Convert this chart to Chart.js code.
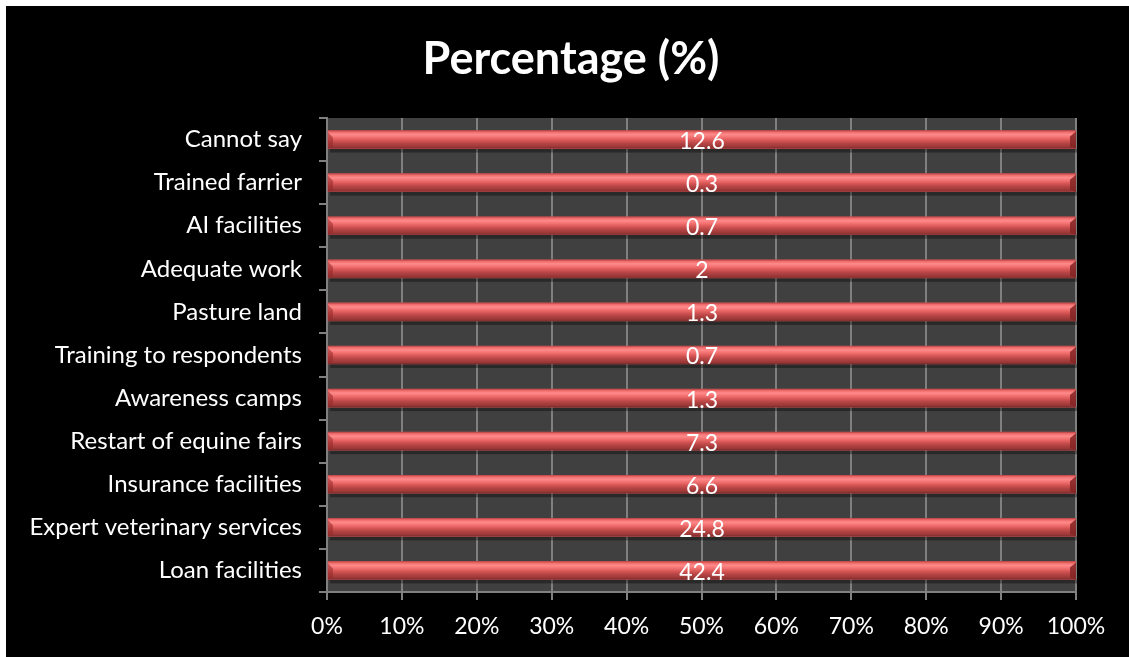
<!DOCTYPE html>
<html>
<head>
<meta charset="utf-8">
<script src="https://cdn.jsdelivr.net/npm/chart.js@4"></script>
<style>
  html, body { margin: 0; padding: 0; background: #fff; }
  #wrap { position: absolute; left: 6px; top: 6px; width: 1123px; height: 651px; background: #000; }
</style>
</head>
<body>
<div id="wrap"><canvas id="c"></canvas></div>
<script>
// categories listed top to bottom, as in the picture
const categories = [
  'Cannot say', 'Trained farrier', 'AI facilities', 'Adequate work', 'Pasture land',
  'Training to respondents', 'Awareness camps', 'Restart of equine fairs',
  'Insurance facilities', 'Expert veterinary services', 'Loan facilities'
];
const percentage = [12.6, 0.3, 0.7, 2, 1.3, 0.7, 1.3, 7.3, 6.6, 24.8, 42.4];
const xTicks = [0, 10, 20, 30, 40, 50, 60, 70, 80, 90, 100];
const titleText = 'Percentage (%)';

// 100% stacked: each bar is its share of the category total (one series -> full width)
const series = [percentage];
const totals = categories.map((_, i) => series.reduce((s, arr) => s + arr[i], 0));
const shares = percentage.map((v, i) => v / totals[i] * 100);

const FONT = 'Lato, "Liberation Sans", sans-serif';

// dark plot background + title (centred on the whole chart box)
const plotBg = {
  id: 'plotBg',
  beforeDraw(chart) {
    const { ctx, chartArea: a } = chart;
    ctx.save();
    ctx.fillStyle = '#404040';
    ctx.fillRect(a.left, a.top, a.right - a.left, a.bottom - a.top);
    ctx.fillStyle = '#fff';
    ctx.font = 'bold 45px ' + FONT;
    ctx.textAlign = 'center';
    ctx.textBaseline = 'middle';
    ctx.fillText(titleText, 565, 53);
    ctx.restore();
  }
};

// shading to give the bars their rounded/bevelled look, plus value labels
const bevel = {
  id: 'bevel',
  beforeDatasetsDraw(chart) {
    const ctx = chart.ctx;
    ctx.save();
    chart.getDatasetMeta(0).data.forEach(el => {
      const h = el.height, top = el.y - h / 2;
      ctx.fillStyle = 'rgba(0,0,0,0.35)';
      ctx.fillRect(el.base + 2, top + h, el.x - el.base, 4);
    });
    ctx.restore();
  },
  afterDatasetsDraw(chart) {
    const ctx = chart.ctx;
    ctx.save();
    chart.getDatasetMeta(0).data.forEach((el, i) => {
      const h = el.height, top = el.y - h / 2, bot = top + h;
      const l = el.base, r = el.x;
      const g = ctx.createLinearGradient(0, top, 0, bot);
      g.addColorStop(0, '#b84444');
      g.addColorStop(0.08, '#ee6a6a');
      g.addColorStop(0.22, '#ff8a8a');
      g.addColorStop(0.38, '#f27070');
      g.addColorStop(0.55, '#d65555');
      g.addColorStop(0.72, '#b54444');
      g.addColorStop(0.9, '#9c3838');
      g.addColorStop(1, '#7a2b2b');
      ctx.fillStyle = g;
      ctx.fillRect(l, top, r - l, h);
      // left end wedge
      ctx.fillStyle = 'rgba(150,40,40,0.55)';
      ctx.beginPath();
      ctx.moveTo(l, top + 2); ctx.lineTo(l + 5, top + 7); ctx.lineTo(l + 5, bot - 2); ctx.lineTo(l, bot);
      ctx.closePath(); ctx.fill();
      // right end bevel
      ctx.fillStyle = 'rgba(130,35,35,0.85)';
      ctx.beginPath();
      ctx.moveTo(r, top + 1); ctx.lineTo(r, bot); ctx.lineTo(r - 6, bot - 2); ctx.lineTo(r - 6, top + 6);
      ctx.closePath(); ctx.fill();
      // value label
      ctx.fillStyle = '#fff';
      ctx.font = '23px ' + FONT;
      ctx.textAlign = 'center';
      ctx.textBaseline = 'middle';
      ctx.fillText(String(percentage[i]), (l + r) / 2, el.y + 2);
    });
    ctx.restore();
  }
};

new Chart(document.getElementById('c'), {
  type: 'bar',
  data: {
    labels: categories,
    datasets: [{
      label: titleText,
      data: shares,
      backgroundColor: '#d65555',
      borderWidth: 0,
      barThickness: 18,
    }]
  },
  options: {
    indexAxis: 'y',
    responsive: true,
    maintainAspectRatio: false,
    animation: false,
    layout: { padding: { left: 0, right: 53, top: 112, bottom: 0 } },
    plugins: {
      legend: { display: false },
      tooltip: { enabled: false },
      title: { display: false }
    },
    scales: {
      x: {
        stacked: true,
        min: 0,
        max: 100,
        afterBuildTicks: s => { s.ticks = xTicks.map(v => ({ value: v })); },
        afterFit: s => { s.height = 65; },
        ticks: {
          color: '#fff',
          font: { family: FONT, size: 23 },
          padding: 13,
          callback: v => v + '%'
        },
        grid: { color: '#808080', lineWidth: 2, tickLength: 8, tickColor: '#808080' },
        border: { color: '#808080', width: 2 }
      },
      y: {
        stacked: true,
        afterFit: s => { s.width = 321; },
        ticks: {
          color: '#fff',
          font: { family: FONT, size: 24 },
          padding: 17
        },
        grid: { drawOnChartArea: false, offset: true, tickLength: 8, color: '#808080', lineWidth: 2 },
        border: { color: '#808080', width: 2 }
      }
    }
  },
  plugins: [plotBg, bevel]
});
</script>
</body>
</html>
